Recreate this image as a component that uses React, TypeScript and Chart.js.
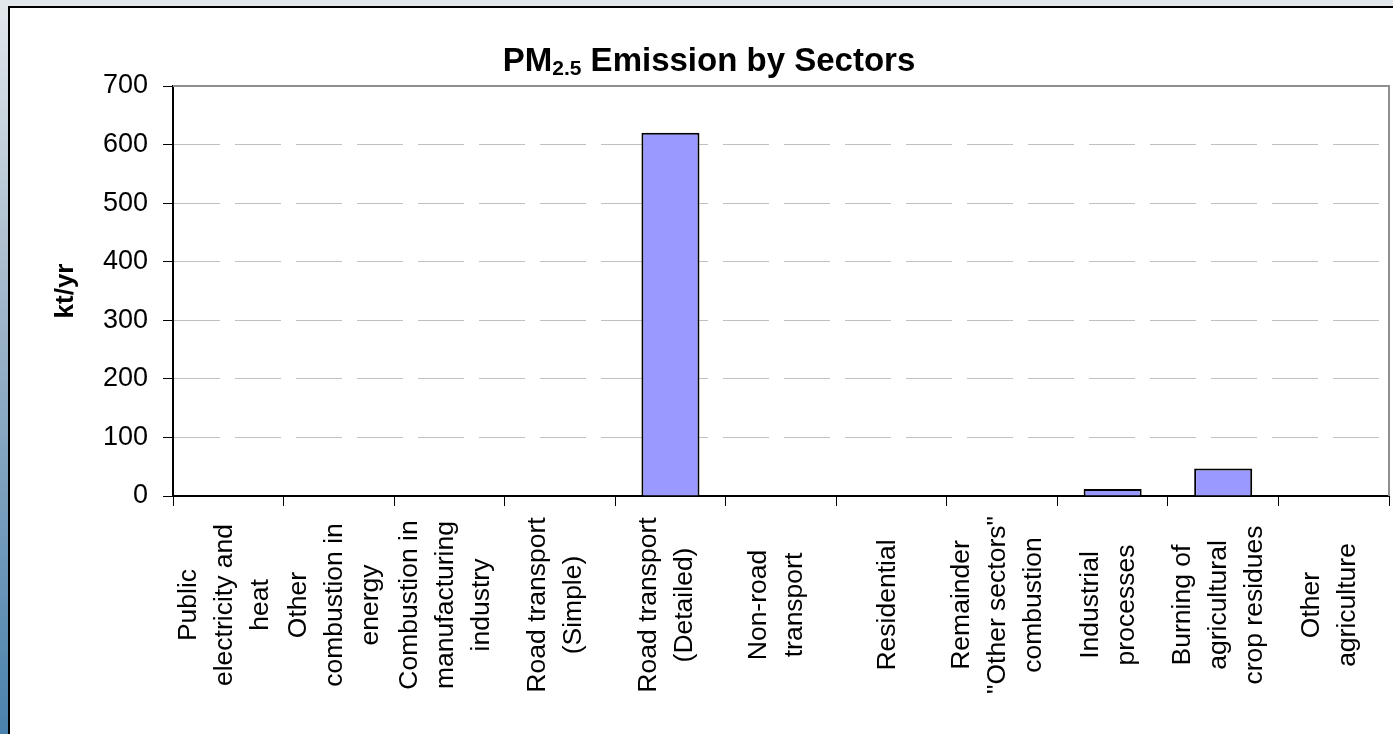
import React, { useEffect, useRef } from "react";
import { Chart, registerables } from "chart.js";

Chart.register(...registerables);

// ---- data ----
const categories: string[][] = [
  ["Public", "electricity and", "heat"],
  ["Other", "combustion in", "energy"],
  ["Combustion in", "manufacturing", "industry"],
  ["Road transport", "(Simple)"],
  ["Road transport", "(Detailed)"],
  ["Non-road", "transport"],
  ["Residential"],
  ["Remainder", "\"Other sectors\"", "combustion"],
  ["Industrial", "processes"],
  ["Burning of", "agricultural", "crop residues"],
  ["Other", "agriculture"],
];
const emissions: number[] = [0, 0, 0, 0, 620, 0, 0, 0, 12, 47, 0];
const yMin = 0;
const yMax = 700;
const yStep = 100;
const titleMain = "PM";
const titleSub = "2.5";
const titleRest = " Emission by Sectors";
const yTitle = "kt/yr";

const FONT = "'Liberation Sans', Arial, Helvetica, sans-serif";

export default function App() {
  const ref = useRef<HTMLCanvasElement>(null);

  useEffect(() => {
    const canvas = ref.current;
    if (!canvas) return;

    const decor = {
      id: "decor",
      afterDraw(chart: any) {
        const { ctx, chartArea: a } = chart;
        const xs = chart.scales.x;
        ctx.save();
        // plot-area border (top & right)
        ctx.strokeStyle = "#8f8f8f";
        ctx.lineWidth = 2;
        ctx.beginPath();
        ctx.moveTo(a.left, a.top);
        ctx.lineTo(a.right, a.top);
        ctx.lineTo(a.right, a.bottom);
        ctx.stroke();

        // title with subscript
        ctx.fillStyle = "#000";
        ctx.textBaseline = "alphabetic";
        ctx.textAlign = "left";
        const mainFont = `bold 33px ${FONT}`;
        const subFont = `bold 21px ${FONT}`;
        ctx.font = mainFont;
        const w1 = ctx.measureText(titleMain).width;
        const w3 = ctx.measureText(titleRest).width;
        ctx.font = subFont;
        const w2 = ctx.measureText(titleSub).width;
        let x = 709 - (w1 + w2 + w3) / 2;
        const base = 71;
        ctx.font = mainFont;
        ctx.fillText(titleMain, x, base);
        x += w1;
        ctx.font = subFont;
        ctx.fillText(titleSub, x, base + 4);
        x += w2;
        ctx.font = mainFont;
        ctx.fillText(titleRest, x, base);

        // rotated, centered category labels
        ctx.font = `26.5px ${FONT}`;
        ctx.textAlign = "center";
        ctx.textBaseline = "middle";
        const lineGap = 36;
        categories.forEach((lines, i) => {
          const cx = xs.getPixelForValue(i) - 4;
          ctx.save();
          ctx.translate(cx, 605);
          ctx.rotate(-Math.PI / 2);
          lines.forEach((ln, j) => {
            const off = (j - (lines.length - 1) / 2) * lineGap;
            ctx.fillText(ln, 0, off);
          });
          ctx.restore();
        });
        ctx.restore();
      },
    };

    const chart = new Chart(canvas, {
      type: "bar",
      data: {
        labels: categories,
        datasets: [
          {
            data: emissions,
            backgroundColor: "#9999ff",
            borderColor: "#000000",
            borderWidth: 2,
            barPercentage: 0.525,
            categoryPercentage: 1,
          },
        ],
      },
      options: {
        responsive: false,
        maintainAspectRatio: false,
        animation: false,
        layout: { padding: { top: 86, right: 4, left: 0, bottom: 0 } },
        plugins: {
          legend: { display: false },
          tooltip: { enabled: false },
          title: { display: false },
        },
        scales: {
          x: {
            type: "category",
            offset: true,
            afterFit: (s: any) => {
              s.height = 734 - 496;
            },
            grid: {
              offset: true,
              drawOnChartArea: false,
              drawTicks: true,
              tickLength: 10,
              tickColor: "#000",
              tickWidth: 1,
            },
            border: { display: true, color: "#000", width: 2 },
            ticks: { display: false },
          },
          y: {
            min: yMin,
            max: yMax,
            afterFit: (s: any) => {
              s.width = 173;
            },
            ticks: {
              stepSize: yStep,
              padding: 15,
              color: "#000",
              font: { family: FONT, size: 27 },
            },
            grid: {
              color: "#c0c0c0",
              lineWidth: 1,
              tickLength: 10,
              tickColor: "#000",
              tickWidth: 1,
            },
            border: { display: true, color: "#000", width: 2, dash: [46, 15] },
            title: {
              display: true,
              text: yTitle,
              color: "#000",
              font: { family: FONT, size: 26, weight: "bold" },
              padding: { top: 50, bottom: 0 },
            },
          },
        },
      },
      plugins: [decor],
    } as any);

    return () => chart.destroy();
  }, []);

  return (
    <div
      style={{
        position: "fixed",
        left: 0,
        top: 0,
        width: 1393,
        height: 734,
        overflow: "hidden",
        background: "#e2e7eb",
      }}
    >
      <div
        style={{
          position: "absolute",
          left: 0,
          top: 0,
          width: 8,
          height: 734,
          background: "linear-gradient(to bottom, #e3e8ec 0%, #a0b6ca 42%, #4a82ad 100%)",
        }}
      />
      <div
        style={{
          position: "absolute",
          left: 8,
          top: 6,
          right: -10,
          bottom: -10,
          background: "#ffffff",
          borderLeft: "2px solid #000",
          borderTop: "2px solid #000",
        }}
      />
      <canvas
        ref={ref}
        width={1393}
        height={734}
        style={{ position: "absolute", left: 0, top: 0, width: 1393, height: 734 }}
      />
    </div>
  );
}
